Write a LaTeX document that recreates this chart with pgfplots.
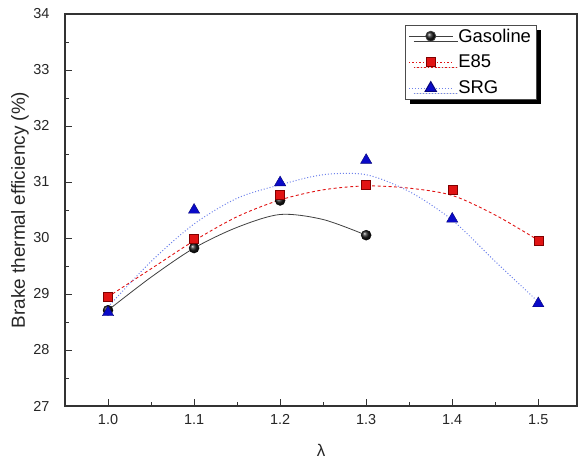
\documentclass[border=0pt]{standalone}
\usepackage{pgfplots}
\pgfplotsset{compat=1.18}
\usepackage{fontspec}
\setmainfont{Liberation Sans}
\usetikzlibrary{shadows}

\definecolor{e85red}{RGB}{225,20,20}
\definecolor{srgblue}{RGB}{10,10,200}
\definecolor{srgline}{RGB}{110,130,235}

\begin{document}
\begin{tikzpicture}
\begin{axis}[
    scale only axis,
    width=512bp, height=392bp,
    xmin=0.95, xmax=1.545,
    ymin=27, ymax=34,
    xtick={1.0,1.1,...,1.5},
    ytick={27,28,...,34},
    minor x tick num=1,
    minor y tick num=1,
    tick pos=left,
    tick align=inside,
    major tick length=7bp,
    minor tick length=4bp,
    axis line style={line width=1.1bp, black!80},
    every tick/.style={line width=0.9bp, black!80},
    /pgf/number format/assume math mode=true,
    xticklabel style={/pgf/number format/.cd, fixed, fixed zerofill, precision=1, /tikz/.cd, yshift=-5bp},
    yticklabel style={xshift=-12bp},
    tick label style={font=\fontsize{14.5}{16}\selectfont, black!85},
    xlabel={λ},
    ylabel={Brake thermal efficiency (\%)},
    xlabel style={at={(axis description cs:0.5,-0.112)}, anchor=center, font=\fontsize{17}{19}\selectfont, black!85},
    ylabel style={at={(axis description cs:-0.088,0.5)}, anchor=center, rotate=0, font=\fontsize{19}{21}\selectfont, black!85},
    legend cell align=left,
    legend image code/.code={\draw[mark repeat=2,mark phase=2,#1] plot coordinates {(0bp,0bp)(22bp,0bp)(44bp,0bp)};},
    legend style={at={(rel axis cs:0.664,0.972)}, anchor=north west,
        font=\fontsize{18.5}{20}\selectfont, draw=black!70, line width=0.6bp,
        row sep=7.5bp, inner xsep=3bp, inner ysep=1.5bp,
        nodes={inner xsep=2bp},
        /tikz/every odd column/.append style={column sep=3bp},
        drop shadow={shadow xshift=5bp, shadow yshift=-5bp, fill=black, opacity=1}},
]
% fitted curves
\addplot[forget plot, black!75, line width=0.8bp, smooth] coordinates {
    (1.00,28.71) (1.05,29.30) (1.10,29.82) (1.15,30.19) (1.20,30.42) (1.25,30.33) (1.30,30.05)};
\addplot[forget plot, e85red, line width=0.9bp, dash pattern=on 3bp off 2.5bp, smooth] coordinates {
    (1.00,28.95) (1.05,29.45) (1.10,29.95) (1.15,30.38) (1.20,30.68) (1.25,30.86) (1.30,30.93)
    (1.35,30.89) (1.40,30.76) (1.45,30.41) (1.50,29.96)};
\addplot[forget plot, srgline, line width=1bp, dash pattern=on 1bp off 2bp, smooth] coordinates {
    (1.00,28.77) (1.05,29.58) (1.10,30.25) (1.15,30.71) (1.20,30.95) (1.25,31.13) (1.30,31.13)
    (1.35,30.83) (1.40,30.32) (1.45,29.58) (1.50,28.86)};
% measured points
\addplot[forget plot, only marks, mark=ball, mark size=5bp, mark options={ball color=black!90}] coordinates {
    (1.0,28.71) (1.1,29.82) (1.2,30.67) (1.3,30.05)};
\addplot[forget plot, only marks, mark=square*, mark size=4.5bp, mark options={fill=e85red, draw=red!50!black, line width=0.4bp}] coordinates {
    (1.0,28.95) (1.1,29.98) (1.2,30.78) (1.3,30.95) (1.4,30.86) (1.5,29.95)};
\addplot[forget plot, only marks, mark=triangle*, mark size=6.5bp, mark options={fill=srgblue, draw=srgblue!60!black, line width=0.4bp}] coordinates {
    (1.0,28.67) (1.1,30.50) (1.2,30.99) (1.3,31.39) (1.4,30.34) (1.5,28.83)};
% legend
\addlegendimage{black!75, line width=0.8bp, mark=ball, mark size=5bp, mark options={ball color=black!90}}
\addlegendentry{Gasoline}
\addlegendimage{e85red, line width=0.9bp, dash pattern=on 1.5bp off 2bp, mark=square*, mark size=4.5bp, mark options={solid, fill=e85red, draw=red!50!black}}
\addlegendentry{E85}
\addlegendimage{srgline, line width=1bp, dash pattern=on 1bp off 2bp, mark=triangle*, mark size=6.5bp, mark options={solid, fill=srgblue, draw=srgblue!60!black}}
\addlegendentry{SRG}
\end{axis}
\pgfresetboundingbox
\path[use as bounding box] ([shift={(-65bp,-55bp)}]current axis.south west) rectangle ([shift={(1bp,14bp)}]current axis.north east);
\end{tikzpicture}
\end{document}
